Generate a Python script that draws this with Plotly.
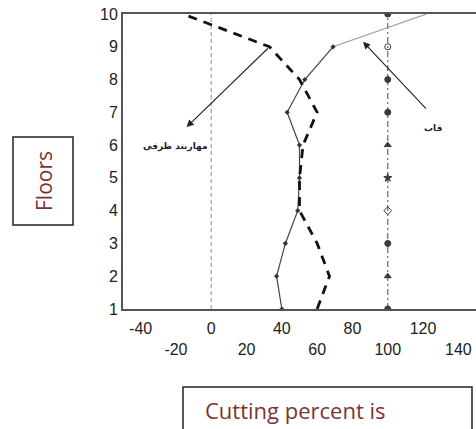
import plotly.graph_objects as go

floors = [1, 2, 3, 4, 5, 6, 7, 8, 9, 10]
frame_pct = [40, 37, 42, 49, 50, 50, 43, 53, 69, 122]
brace_pct = [60, 67, 60, 50, 50, 52, 60, 50, 33, -16]
total_pct = [100, 100, 100, 100, 100, 100, 100, 100, 100, 100]
total_symbols = ["circle", "triangle-up", "circle", "diamond-open", "star",
                 "triangle-up", "circle", "circle", "circle-open", "circle"]
zero_line = [0, 0]
zero_floors = [1, 10]
tick_vals = [-40, -20, 0, 20, 40, 60, 80, 100, 120, 140]
tick_text = ["-40", "<br>-20", "0", "<br>20", "40", "<br>60", "80", "<br>100", "120", "<br>140"]
y_ticks = [1, 2, 3, 4, 5, 6, 7, 8, 9, 10]

L, T, W, H = 123, 14, 353, 295
def px(x):
    return (x - L) / W
def py(y):
    return (T + H - y) / H

fig = go.Figure()

fig.add_trace(go.Scatter(x=zero_line, y=zero_floors, mode="lines",
                         line=dict(color="#a0a0a0", width=1.2, dash="4px,3px"),
                         showlegend=False, hoverinfo="skip"))
fig.add_trace(go.Scatter(x=total_pct, y=floors, mode="lines+markers",
                         line=dict(color="#666666", width=1.2, dash="6px,3px,2px,3px"),
                         marker=dict(symbol=total_symbols, size=6, color="#3a3a3a",
                                     line=dict(color="#3a3a3a", width=1)),
                         showlegend=False))
fig.add_trace(go.Scatter(x=frame_pct[8:], y=floors[8:], mode="lines",
                         line=dict(color="#9a9a9a", width=1.2),
                         showlegend=False))
fig.add_trace(go.Scatter(x=frame_pct[:9], y=floors[:9], mode="lines+markers",
                         line=dict(color="#444444", width=1.2),
                         marker=dict(symbol="diamond", size=4, color="#333333"),
                         showlegend=False))
fig.add_trace(go.Scatter(x=brace_pct, y=floors, mode="lines",
                         line=dict(color="#111111", width=2.8, dash="9px,7px"),
                         showlegend=False))

# arrows
fig.add_annotation(x=-14, y=6.55, ax=33, ay=9, xref="x", yref="y", axref="x", ayref="y",
                   showarrow=True, arrowhead=2, arrowsize=1.3, arrowwidth=1.1,
                   arrowcolor="#222222", text="")
fig.add_annotation(x=86, y=9.15, ax=122.5, ay=7.07, xref="x", yref="y", axref="x", ayref="y",
                   showarrow=True, arrowhead=2, arrowsize=1.3, arrowwidth=1.1,
                   arrowcolor="#222222", text="")
fig.add_annotation(x=-20, y=5.97, xref="x", yref="y", text="<b>مهاربند ظرفی</b>", showarrow=False,
                   font=dict(family="DejaVu Sans", size=9, color="#222222"))
fig.add_annotation(x=125.5, y=6.52, xref="x", yref="y", text="<b>قاب</b>", showarrow=False,
                   font=dict(family="DejaVu Sans", size=9, color="#222222"))

# side boxes
fig.add_shape(type="rect", xref="paper", yref="paper",
              x0=px(13), x1=px(73), y0=py(225), y1=py(137),
              line=dict(color="#222222", width=1.5))
fig.add_annotation(xref="paper", yref="paper", x=px(44), y=py(181), text="Floors",
                   textangle=-90, showarrow=False, xanchor="center", yanchor="middle",
                   font=dict(family="Open Sans", size=21, color="#7a3535"))
fig.add_shape(type="rect", xref="paper", yref="paper",
              x0=px(183), x1=px(472), y0=py(445), y1=py(387),
              line=dict(color="#222222", width=1.5))
fig.add_annotation(xref="paper", yref="paper", x=px(203), y=py(410), text="Cutting percent is",
                   xanchor="left", yanchor="middle", showarrow=False,
                   font=dict(family="Open Sans", size=22, color="#7a3535"))

fig.update_layout(
    width=476, height=429,
    margin=dict(l=L, r=476 - L - W, t=T, b=429 - T - H),
    paper_bgcolor="white", plot_bgcolor="white",
    font=dict(family="Liberation Sans", size=16, color="#222222"),
    xaxis=dict(range=[-50, 150], tickvals=tick_vals, ticktext=tick_text,
               showgrid=False, zeroline=False, showline=True, mirror=True,
               linecolor="#555555", linewidth=2, ticks="", automargin=False,
               ticklabelstandoff=4),
    yaxis=dict(range=[1, 10], tickvals=y_ticks, showgrid=False, zeroline=False,
               showline=True, linecolor="#555555", linewidth=2, ticks="",
               automargin=False),
)

fig.write_html("out.html", config={"displayModeBar": False},
               post_script="document.body.style.margin='0';")
